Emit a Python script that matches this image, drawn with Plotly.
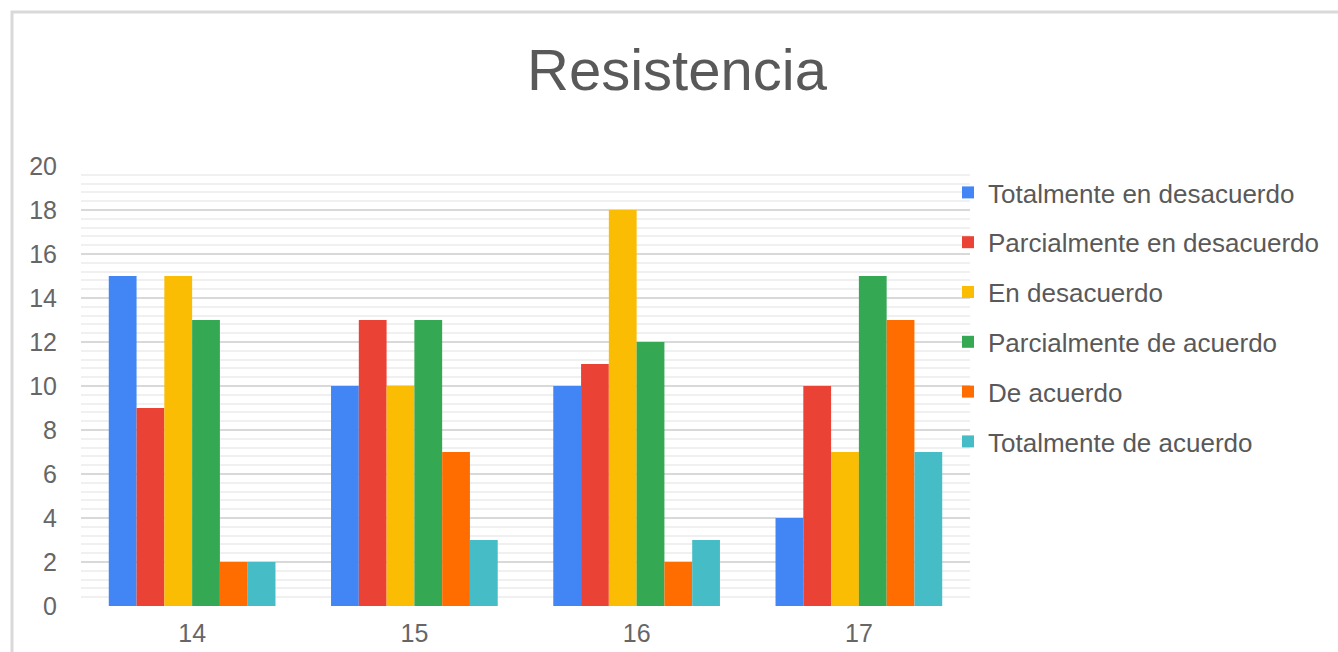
import plotly.graph_objects as go

categories = ["14", "15", "16", "17"]
series_names = [
    "Totalmente en desacuerdo",
    "Parcialmente en desacuerdo",
    "En desacuerdo",
    "Parcialmente de acuerdo",
    "De acuerdo",
    "Totalmente de acuerdo",
]
totalmente_desacuerdo = [15, 10, 10, 4]
parcialmente_desacuerdo = [9, 13, 11, 10]
en_desacuerdo = [15, 10, 18, 7]
parcialmente_acuerdo = [13, 13, 12, 15]
de_acuerdo = [2, 7, 2, 13]
totalmente_acuerdo = [2, 3, 3, 7]
series_values = [totalmente_desacuerdo, parcialmente_desacuerdo, en_desacuerdo,
                 parcialmente_acuerdo, de_acuerdo, totalmente_acuerdo]
colors = ["#4285F4", "#EA4335", "#FBBC04", "#34A853", "#FF6D01", "#46BDC6"]
y_ticks = [0, 2, 4, 6, 8, 10, 12, 14, 16, 18, 20]

FONT = "Liberation Sans, Arial, sans-serif"
W, H = 1338, 652
L, R, T, B = 81, 368, 166, 46
pw, ph = W - L - R, H - T - B

fig = go.Figure()
for i, (name, vals, col) in enumerate(zip(series_names, series_values, colors)):
    fig.add_trace(go.Bar(x=categories, y=vals, name=name, marker=dict(color=col, line=dict(width=0)),
                         legendgroup=f"g{i}"))

def px_x(p):
    return (p - L) / pw

def px_y(p):
    return (H - B - p) / ph

fig.update_layout(
    width=W, height=H,
    margin=dict(l=L, r=R, t=T, b=B, autoexpand=False),
    paper_bgcolor="white", plot_bgcolor="white",
    barmode="group", bargap=0.25, bargroupgap=0,
    font=dict(family=FONT, color="#666666", size=24),
    title=dict(text="Resistencia", font=dict(family=FONT, size=58, color="#595959"),
               x=677 / W, xanchor="center", xref="container",
               y=1 - 70 / H, yanchor="middle", yref="container"),
    legend=dict(x=px_x(948), y=px_y(169), xanchor="left", yanchor="top",
                font=dict(family=FONT, size=26, color="#595959"),
                traceorder="grouped", tracegroupgap=13, bgcolor="rgba(0,0,0,0)"),
    xaxis=dict(type="category", showgrid=False, showline=False, zeroline=False, automargin=False,
               ticks="outside", ticklen=5, tickcolor="rgba(0,0,0,0)",
               tickfont=dict(family=FONT, size=25, color="#666666")),
    yaxis=dict(range=[0, 20], tickvals=y_ticks, showgrid=True, gridcolor="#d9d9d9", gridwidth=2,
               zeroline=False, showline=False, automargin=False,
               ticks="outside", ticklen=18, tickcolor="rgba(0,0,0,0)",
               tickfont=dict(family=FONT, size=25, color="#666666"),
               minor=dict(dtick=0.4, showgrid=True, gridcolor="#f0f0f0", gridwidth=2)),
    shapes=[
        dict(type="line", xref="paper", yref="paper", x0=px_x(11), x1=px_x(W + 5),
             y0=px_y(12), y1=px_y(12), line=dict(color="#d9d9d9", width=3), layer="above"),
        dict(type="line", xref="paper", yref="paper", x0=px_x(12), x1=px_x(12),
             y0=px_y(11), y1=px_y(H + 5), line=dict(color="#d9d9d9", width=3), layer="above"),
    ],
)

fig.write_html("out.html")
